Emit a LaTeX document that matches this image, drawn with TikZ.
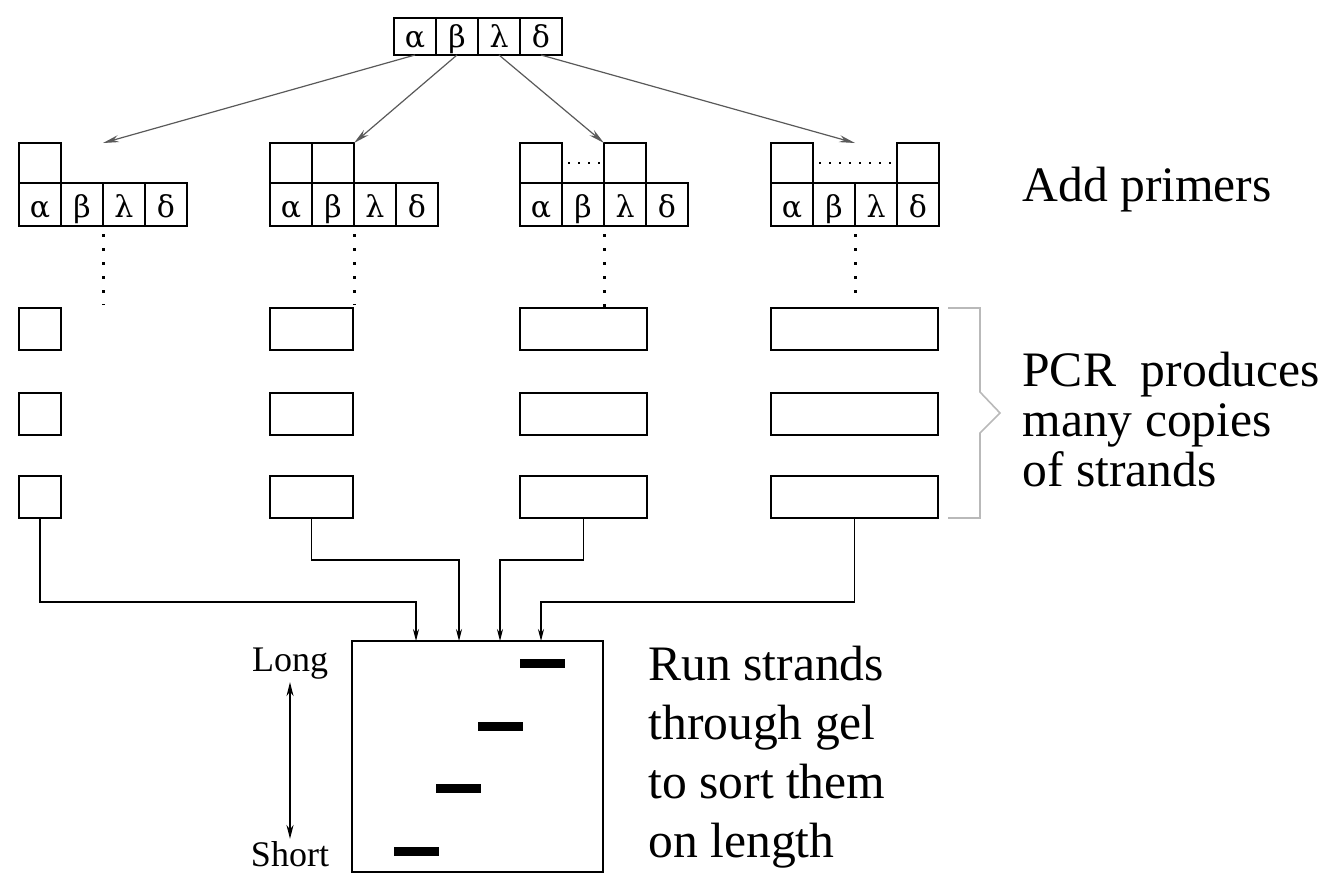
\documentclass[tikz,border=0pt]{standalone}
\usepackage{fontspec}
\setmainfont{Liberation Serif}
\newfontfamily\greekfont{DejaVu Serif}
\usetikzlibrary{arrows.meta, positioning}

\begin{document}
\begin{tikzpicture}[
x=0.5pt, y=-0.5pt,
% strand cells
cell/.style={draw, line width=0.9pt, outer sep=0, minimum width=21pt, minimum height=21.5pt, inner sep=0, text height=14pt, text depth=1.5pt, font=\greekfont\fontsize{15}{15}\selectfont},
topcell/.style={cell, minimum height=18.5pt, text height=12pt, text depth=1.5pt},
primer/.style={draw, line width=0.9pt, outer sep=0, minimum width=21pt, minimum height=20pt, inner sep=0, anchor=south},
gap/.style={line width=1pt, dash pattern=on 1pt off 4pt, shorten <=3pt, shorten >=2pt},
vdots/.style={line width=1.5pt, dash pattern=on 1.5pt off 5.5pt, shorten <=4pt},
% PCR copies
strand/.style={draw, line width=0.9pt, outer sep=0, minimum height=21pt, inner sep=0, anchor=north west},
brace/.style={gray!55, line width=0.8pt},
% connectors
split/.style={gray!70!black, line width=0.6pt, -{Stealth[length=8pt, width=3.5pt]}},
feed/.style={line width=0.6pt, -{Stealth[length=6pt, width=3pt]}},
% gel
gelbox/.style={draw, line width=0.9pt, minimum width=125.5pt, minimum height=115.5pt, inner sep=0},
band/.style={fill, minimum width=22.5pt, minimum height=4.5pt, inner sep=0},
% annotations
note/.style={font=\fontsize{24.8}{25}\selectfont, inner sep=0, align=left, anchor=west},
tag/.style={font=\fontsize{18}{18}\selectfont, inner sep=1pt}
]

\useasboundingbox (0,0) rectangle (1331,874);

% TOP STRAND
\foreach \c/\l [count=\k from 0] in {a/α, b/β, c/λ, d/δ}
  \node[topcell, anchor=north west] (t\c) at ({394+42*\k},18) {\l};

% FOUR GROUPS
\foreach \g/\gx/\sw in {1/19/21pt, 2/270/41.5pt, 3/520/63.5pt, 4/771/83.5pt} {
  \foreach \c/\l [count=\k from 0] in {a/α, b/β, c/λ, d/δ}
    \node[cell, anchor=north west] (g\g\c) at ({\gx+42*\k},183) {\l};
  \foreach \r/\ry in {1/308, 2/393, 3/476}
    \node[strand, minimum width=\sw] (s\g\r) at (\gx,\ry) {};
  \coordinate (tip\g) at ([yshift=20pt]g\g b.north east);
}

% primers
\node[primer] (p1a) at (g1a.north) {};
\node[primer] (p2a) at (g2a.north) {};
\node[primer] (p2b) at (g2b.north) {};
\node[primer] (p3a) at (g3a.north) {};
\node[primer] (p3c) at (g3c.north) {};
\node[primer] (p4a) at (g4a.north) {};
\node[primer] (p4d) at (g4d.north) {};
\draw[gap] (p3a.east) -- (p3c.west);
\draw[gap] (p4a.east) -- (p4d.west);

% dotted descent to the copies
\foreach \g/\len in {1/79, 2/79, 3/82, 4/67}
  \draw[vdots] (g\g b.south east) -- ++(0,\len);

% split arrows
\foreach \t/\g in {a/1, b/2, c/3, d/4}
  \draw[split] (t\t.south) -- (tip\g);

% brace of the copies
\draw[brace] (948,308) -- (980,308) -- (980,392) -- (1000,413) -- (980,433) -- (980,518) -- (948,518);

% GEL
\node[gelbox] (gel) at (477.5,756.5) {};
\coordinate (in1) at (416,641);
\coordinate (in2) at (459,641);
\coordinate (in3) at (500,641);
\coordinate (in4) at (541,641);
\foreach \i/\bx/\by in {1/416/851, 2/458/788, 3/500/726, 4/542/663}
  \node[band] (b\i) at (\bx,\by) {};

\draw[feed] (s13.south) -- ++(0,84) -| (in1);
\draw[feed] (s23.south) -- ++(0,42) -| (in2);
\draw[feed] (s33.south) -- ++(0,42) -| (in3);
\draw[feed] (s43.south) -- ++(0,84) -| (in4);

\node[tag] (long) at (290,664) {Long};
\node[tag] (short) at (290,854) {Short};
\draw[line width=0.8pt, {Stealth[length=7pt, width=3.5pt]}-{Stealth[length=7pt, width=3.5pt]}] (long) -- (short);

% annotations
\node[note] (addp) at (1022,190) {Add primers};
\node[note] (pcr) at (1022,420) {PCR\ \ produces\\many copies\\of strands};
\node[note, font=\fontsize{24.8}{29.5}\selectfont] (run) at (648,757) {Run strands\\through gel\\to sort them\\on length};

\end{tikzpicture}
\end{document}
